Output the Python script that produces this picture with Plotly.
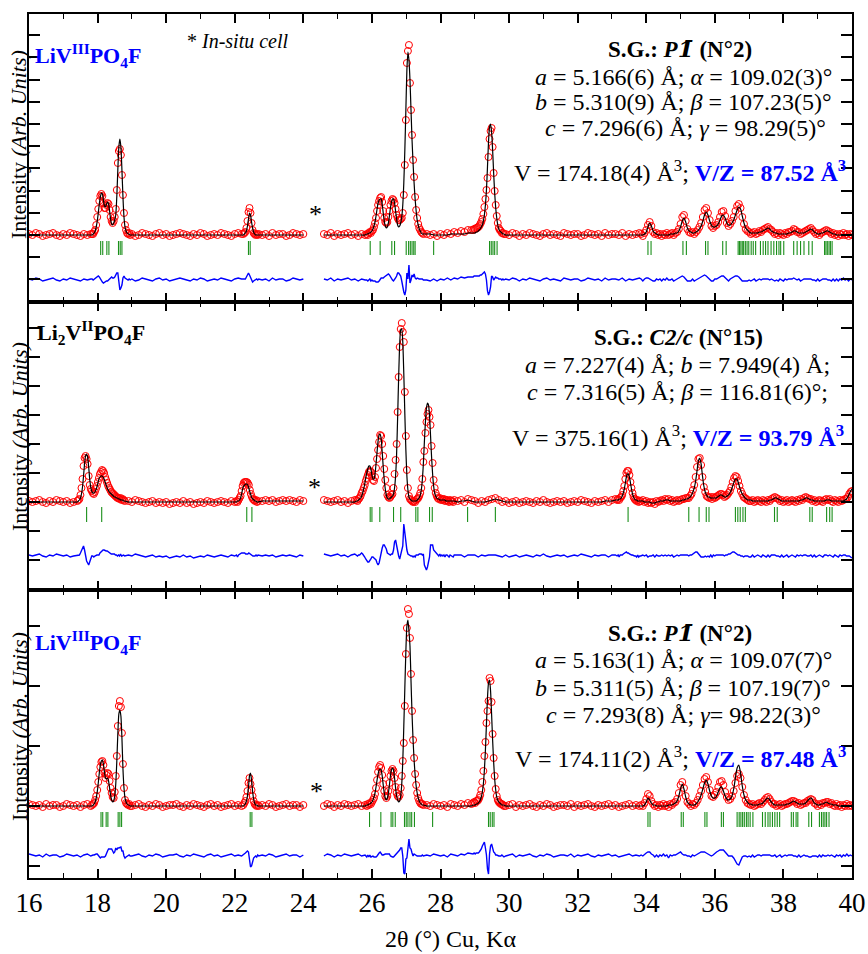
import plotly.graph_objects as go
from plotly.subplots import make_subplots

# ============================ DATA ============================
# 2theta scan segments (start, step); intensities in arbitrary units
# (background level of each pattern = 0). Obs = observed, calc = calculated.

# ---------- Panel 1 : LiV(III)PO4F (top) ----------
top_starts = [16.0, 17.84, 19.0, 22.25, 22.8, 24.6, 25.85, 27.6, 28.95, 29.9, 33.85]
top_steps = [0.1, 0.03, 0.1, 0.03, 0.1, 0.1, 0.03, 0.1, 0.03, 0.1, 0.05]
top_obs = [
    [1, 0, 2, 1, -1, 0, 1, 2, 0, -1, 1, 0, 2, 1, 0, -1, 1, 0, 1],
    [1, 1, 3, 5, 10, 18, 26, 34, 39, 41, 39, 32, 27, 27, 30, 32, 31, 25, 18, 14, 12, 14, 18, 26, 45, 72, 84, 86, 80, 60, 40, 22, 10, 5, 2, 1, 2, 0],
    [1, -1, 0, 2, 1, 0, -1, 1, 2, 0, 1, -1, 0, 1, 2, 1, 0, -1, 1, 0, 2, 1, -1, 0, 1, 0, 2, 1, 0, -1, 1, 2, 1],
    [1, 2, 3, 7, 14, 23, 27, 22, 12, 5, 2, 1, 0, 1, 0, 1],
    [0, 1, -1, 2, 0, 1, 1, -1, 0, 2, 1, 0, 1],
    [1, 0, 2, -1, 1, 0, 1, 2, 0, 1, -1, 1, 0],
    [1, 0, 2, 3, 2, 4, 5, 8, 12, 17, 24, 30, 34, 37, 38, 33, 24, 17, 13, 12, 13, 18, 24, 30, 34, 36, 35, 32, 26, 20,
     17, 15, 15, 16, 17, 22, 40, 70, 115, 172, 184, 190, 152, 125, 100, 75, 58, 38, 25, 17, 11, 7, 5, 3, 2, 1],
    [1, 0, 1, -1, 1, 0, 2, 1, 3, 2, 4, 3, 5, 5],
    [5, 6, 6, 7, 7, 8, 9, 11, 13, 16, 21, 28, 36, 45, 57, 78, 96, 104, 107, 88, 62, 44, 30, 19, 12, 7, 5, 4, 2, 2, 1],
    [1, 0, 2, 1, -1, 1, 0, 2, 1, 0, -1, 1, 2, 0, 1, 0, -1, 2, 1, 0, 1, 1, -1, 0, 2, 1, 0, 1, -1, 2, 0, 1, 1, 0, 2, -1, 1, 0, 1, 2],
    [1, -1, 2, 5, 10, 13, 9, 3, 1, 2, 0, 1, -1, 1, 0, 2, 0, 1, 2, 0, 2, 3, 6, 11, 18, 20, 14, 6, 3, 2,
     3, 1, 3, 5, 8, 12, 18, 25, 27, 22, 15, 9, 7, 9, 10, 13, 18, 23, 24, 19, 12, 9, 11, 14, 18, 24, 29, 31, 27, 18,
     11, 6, 4, 3, 1, 2, 3, 1, 2, 4, 3, 5, 6, 7, 8, 6, 5, 3, 1, 2, 0, 2, 1, 0, 2, 1, 3, 3, 4, 6,
     5, 3, 3, 1, 2, 3, 4, 5, 6, 7, 5, 3, 1, 2, 0, 2, 3, 4, 5, 4, 3, 1, 2, 0, 1, -1, 1, 0, 2, 0, 1, -1, 1, 0],
]
top_calc = [
    0,
    [0, 1, 2, 4, 8, 14, 22, 31, 38, 42, 41, 35, 29, 28, 31, 33, 31, 24, 16, 11, 10, 12, 15, 20, 38, 65, 88, 96, 88, 65, 38, 18, 8, 4, 2, 1, 1, 0],
    0,
    [0, 1, 2, 4, 9, 16, 22, 20, 13, 7, 3, 1, 0, 0, 0, 0],
    0,
    0,
    [1, 1, 2, 2, 3, 4, 6, 9, 13, 19, 26, 32, 35, 36, 36, 31, 22, 14, 9, 7, 8, 12, 19, 27, 33, 36, 36, 32, 24, 16,
     10, 8, 9, 12, 18, 30, 52, 85, 125, 165, 183, 175, 155, 125, 95, 72, 52, 36, 24, 15, 10, 6, 4, 2, 1, 1],
    [1, 1, 0, 0, 0, 0, 0, 1, 1, 1, 1, 1, 2, 2],
    [2, 2, 2, 3, 3, 4, 5, 6, 8, 10, 14, 20, 30, 45, 68, 93, 108, 111, 103, 85, 62, 42, 27, 17, 10, 6, 4, 3, 2, 1, 1],
    0,
    [0, 0, 1, 3, 8, 12, 9, 4, 2, 1, 0, 0, 0, 0, 0, 0, 0, 1, 1, 1, 2, 2, 4, 8, 14, 17, 13, 7, 4, 3,
     2, 2, 3, 4, 6, 9, 14, 20, 23, 20, 14, 10, 8, 8, 9, 11, 15, 19, 20, 17, 12, 10, 10, 12, 15, 20, 25, 28, 26, 19,
     12, 7, 5, 3, 2, 2, 2, 2, 2, 3, 3, 4, 5, 6, 7, 6, 4, 3, 2, 2, 1, 1, 1, 1, 1, 1, 2, 2, 3, 4,
     4, 3, 2, 2, 2, 2, 3, 4, 5, 6, 5, 3, 2, 1, 1, 2, 2, 3, 4, 4, 3, 2, 1, 1, 0, 0, 0, 0, 0, 0, 0, 0, 0, 0],
]
top_bragg = [18.09, 18.15, 18.27, 18.33, 18.61, 18.66, 18.71, 22.40, 22.45, 25.95, 26.24, 26.58, 26.66, 27.00,
             27.07, 27.12, 27.17, 27.22, 27.26, 27.80, 29.43, 29.48, 29.53, 29.58, 29.65, 34.05, 34.14, 35.07,
             35.17, 35.73, 35.80, 36.23, 36.33, 36.68, 36.72, 36.76, 36.80, 36.84, 36.89, 36.94, 36.99, 37.06,
             37.12, 37.19, 37.33, 37.41, 37.48, 37.55, 37.64, 37.72, 37.80, 37.87, 37.92, 38.01, 38.30, 38.40,
             38.50, 38.60, 38.74, 38.84, 39.20, 39.24, 39.28, 39.33, 39.37, 39.42]

# ---------- Panel 2 : Li2V(II)PO4F (middle) ----------
mid_starts = [16.0, 17.41, 18.9, 22.05, 22.8, 24.6, 25.55, 28.5, 33.15, 33.9, 35.2, 37.05, 39.84]
mid_steps = [0.1, 0.03, 0.1, 0.03, 0.1, 0.1, 0.03, 0.1, 0.03, 0.05, 0.04, 0.05, 0.04]
mid_obs = [
    [1, 0, 1, 2, 0, -1, 1, 0, 2, 1, 0, 1, -1, 0],
    [1, 2, 3, 7, 14, 23, 36, 44, 46, 43, 38, 26, 17, 13, 11, 9, 8, 10, 13, 16, 20, 24, 28, 30, 32, 31, 29, 25, 22, 19,
     16, 14, 12, 10, 9, 8, 7, 6, 5, 4, 4, 3, 4, 2, 3, 2, 1],
    [1, 0, 2, 1, 0, -1, 0, 1, -1, 0, -1, 0, -2, -1, 0, -1, 1, -1, 0, -2, -1, 0, -1, 1, 0, -1, 0, 1, 0, -1, 1, 0],
    [1, 0, 2, 4, 6, 11, 16, 19, 20, 20, 20, 19, 17, 12, 8, 5, 3, 2, 1, 2, 0, 1],
    [1, 2, 1, 2, 0, 1, 2, 1, 2, 1, 0, 2, 1],
    [2, 1, 0, 1, 2, 0, 1, -1, 1, 2],
    [2, 1, 3, 4, 6, 9, 11, 14, 17, 21, 24, 27, 30, 31, 30, 26, 22, 21, 25, 34, 43, 52, 60, 67, 66, 58, 46, 33, 22, 14,
     7, 5, 4, 5, 7, 8, 14, 28, 42, 58, 90, 125, 155, 173, 179, 170, 160, 110, 66, 32, 14, 6, 3, 2, 1, 0, 1, 0, 2, 3,
     4, 6, 9, 14, 23, 40, 51, 69, 80, 88, 92, 85, 77, 56, 39, 22, 14, 9, 6, 4, 3, 4, 2, 3, 2, 3, 1, 2, 2, 1,
     0, 2, 1, 1, 0, 2],
    [1, 2, 0, 3, 2, 1, -1, 1, 0, 2, 3, 4, 2, 0, 1, -1, 0, 1, -1, 0, 1, 0, -1, 1, 0, 2, 0, -1, 0, 1,
     0, 1, -1, 0, 1, 0, 2, 1, 0, -1, 1, 0, 1, 2, 0, 2, 3],
    [2, 3, 2, 4, 5, 7, 11, 16, 23, 29, 31, 31, 27, 20, 14, 9, 5, 3, 2, 1, 2, 0, 1, 1],
    [2, 0, 1, -1, 0, -1, 0, -2, 1, 0, 1, 2, 1, 3, 2, 3, 1, 2, 0, 1, 2, 1, 2, 3, 3, 4],
    [4, 4, 6, 8, 12, 17, 25, 35, 43, 44, 37, 25, 15, 10, 6, 5, 4, 5, 3, 5, 4, 5, 6, 7, 8, 8, 7, 5, 6, 7,
     9, 11, 15, 20, 24, 26, 25, 21, 16, 11, 8, 5, 4, 3, 2, 1],
    [1, 2, 0, 1, 2, 1, 0, 2, 1, 0, 2, 1, 3, 4, 5, 4, 3, 1, 2, 0, 1, 2, 0, 1, 2, 1, 0, 2, 1, 3,
     2, 4, 5, 4, 3, 3, 1, 2, 0, 1, 2, 1, 0, 2, 3, 2, 3, 1, 0, 2, 1, 0, 2, 1, 2, 3],
    [3, 5, 8, 10, 11],
]
mid_calc = [
    0,
    [0, 1, 2, 4, 8, 15, 26, 38, 46, 48, 45, 35, 23, 15, 11, 9, 9, 10, 12, 15, 19, 23, 25, 26, 26, 25, 23, 20, 17, 14,
     12, 10, 9, 8, 7, 6, 5, 5, 4, 4, 3, 3, 2, 2, 2, 1, 1],
    0,
    [0, 1, 1, 2, 4, 8, 13, 16, 17, 18, 18, 17, 14, 10, 7, 4, 3, 2, 1, 1, 0, 0],
    1,
    0,
    [1, 1, 2, 3, 4, 6, 9, 13, 18, 24, 29, 33, 36, 36, 33, 27, 23, 23, 28, 38, 50, 61, 67, 68, 63, 50, 35, 22, 13, 7,
     4, 3, 3, 4, 5, 6, 8, 14, 26, 48, 85, 125, 158, 172, 173, 160, 128, 88, 52, 26, 12, 5, 3, 2, 1, 1, 1, 1, 1, 2,
     3, 4, 7, 12, 22, 38, 60, 80, 94, 99, 97, 86, 66, 45, 28, 16, 9, 6, 4, 3, 3, 2, 2, 2, 2, 2, 2, 1, 1, 1,
     1, 1, 1, 1, 1, 1],
    [0, 1, 1, 2, 1, 0, 0, 0, 0, 1, 2, 3, 2, 1, 0, 0, 0, 0, 0, 0, 0, 0, 0, 0, 0, 0, 0, 0, 0, 0,
     0, 0, 0, 0, 0, 0, 0, 0, 0, 0, 0, 0, 0, 1, 1, 1, 2],
    [2, 2, 3, 3, 4, 6, 9, 13, 19, 25, 28, 28, 25, 19, 13, 8, 5, 3, 2, 2, 1, 1, 1, 1],
    [1, 0, 0, 0, 0, -1, -1, -1, 0, 0, 1, 1, 1, 2, 2, 2, 1, 1, 1, 1, 1, 1, 1, 2, 2, 3],
    [3, 4, 5, 7, 10, 14, 21, 31, 41, 44, 38, 26, 16, 10, 7, 5, 5, 4, 4, 4, 4, 4, 5, 6, 7, 7, 6, 5, 5, 6,
     7, 9, 12, 16, 20, 23, 23, 20, 15, 11, 8, 6, 4, 3, 2, 2],
    [2, 1, 1, 1, 1, 1, 1, 1, 1, 1, 1, 2, 2, 3, 4, 4, 3, 2, 1, 1, 1, 1, 1, 1, 1, 1, 1, 1, 1, 2,
     2, 3, 4, 4, 3, 2, 2, 1, 1, 1, 1, 1, 1, 1, 2, 2, 2, 1, 1, 1, 1, 1, 1, 1, 1, 2],
    [3, 5, 8, 11, 13],
]
mid_bragg = [17.68, 18.12, 22.35, 22.50, 25.95, 26.00, 26.23, 26.63, 26.84, 27.28, 27.34, 27.68, 27.76, 28.79,
             29.60, 33.47, 35.24, 35.54, 35.75, 35.83, 36.60, 36.67, 36.74, 36.82, 36.89, 37.74, 37.82, 38.77,
             38.84, 39.26, 39.35, 39.42]

# ---------- Panel 3 : LiV(III)PO4F (bottom) ----------
bot_starts = [16.0, 17.84, 19.0, 22.25, 22.8, 24.6, 25.85, 27.6, 28.95, 29.9, 33.85]
bot_steps = [0.1, 0.03, 0.1, 0.03, 0.1, 0.1, 0.03, 0.1, 0.03, 0.1, 0.05]
bot_obs = [
    [2, 1, 0, 1, -1, 2, 0, 1, 1, -1, 0, 2, 1, 0, 1, -1, 1, 2, 0],
    [1, 2, 3, 6, 10, 16, 24, 32, 39, 44, 45, 41, 33, 28, 31, 33, 32, 25, 18, 13, 9, 8, 14, 30, 50, 80, 100, 105, 99, 73, 42, 18, 6, 3, 2, 1, 2, 0],
    [0, 1, 2, 0, -1, 1, 0, 2, 1, -1, 0, 1, 1, 2, 0, -1, 1, 0, 2, 1, 0, -1, 1, 2, 0, 1, -1, 0, 1, 2, 0, 1, 0],
    [1, 3, 5, 9, 15, 23, 28, 22, 16, 10, 5, 2, 1, 0, 1, 0],
    [1, 0, 2, 1, -1, 0, 1, 2, 0, 1, 1, -1, 1],
    [0, 2, 1, -1, 1, 0, 2, 1, 0, 1, 2, 0, 1],
    [0, 2, 1, 3, 2, 4, 6, 8, 12, 18, 26, 34, 39, 41, 38, 31, 22, 15, 10, 8, 10, 15, 23, 30, 35, 37, 35, 28, 19, 13,
     10, 9, 11, 18, 30, 45, 63, 100, 152, 178, 197, 192, 168, 132, 95, 66, 48, 32, 21, 13, 8, 5, 3, 2, 2, 1],
    [1, 0, 2, 1, 0, 1, -1, 2, 1, 0, 2, 1, 3, 2],
    [3, 4, 3, 5, 5, 6, 8, 11, 16, 24, 35, 50, 64, 83, 95, 105, 128, 125, 104, 72, 48, 30, 17, 10, 6, 4, 3, 2, 2, 1, 0],
    [0, 1, 2, -1, 1, 0, 1, 2, 0, -1, 1, 0, 2, 1, -1, 0, 1, 1, 0, 2, -1, 1, 0, 1, 2, 0, -1, 1, 0, 1, 2, 0, 1, -1, 0, 1, 2, 0, 1, 0],
    [1, 0, 3, 7, 12, 10, 5, 2, 0, 1, -1, 1, 0, 2, 0, 1, -1, 2, 1, 3, 4, 7, 13, 21, 24, 18, 10, 4, 2, 0,
     2, 1, 3, 6, 10, 15, 21, 27, 29, 24, 16, 10, 9, 11, 14, 19, 24, 25, 21, 14, 9, 6, 7, 10, 15, 23, 30, 32, 28, 19,
     11, 6, 3, 2, 1, 2, 0, 1, 2, 3, 2, 4, 6, 8, 9, 7, 4, 2, 2, 0, 1, 2, 0, 1, 2, 2, 3, 4, 5, 5,
     4, 2, 3, 1, 2, 3, 3, 5, 6, 7, 6, 3, 2, 0, 2, 1, 3, 3, 4, 4, 2, 3, 1, 0, 2, 0, 1, -1, 1, 0, 2, 0, 1, 0],
]
bot_calc = [
    0,
    [0, 1, 2, 4, 8, 14, 23, 33, 41, 45, 46, 42, 34, 28, 27, 28, 25, 18, 11, 6, 4, 5, 10, 22, 44, 72, 92, 96, 90, 68, 37, 18, 8, 4, 2, 1, 1, 0],
    0,
    [0, 1, 2, 5, 10, 19, 30, 33, 26, 15, 7, 3, 1, 1, 0, 0],
    0,
    0,
    [1, 1, 2, 2, 3, 4, 6, 9, 13, 19, 26, 32, 36, 37, 36, 30, 21, 13, 8, 6, 8, 13, 21, 30, 36, 38, 36, 28, 18, 10,
     6, 4, 5, 10, 22, 45, 80, 118, 155, 180, 186, 175, 160, 125, 92, 66, 46, 31, 20, 13, 8, 5, 3, 2, 1, 1],
    0,
    [1, 1, 1, 2, 2, 3, 4, 6, 9, 14, 22, 36, 56, 82, 108, 123, 126, 115, 92, 66, 44, 27, 16, 9, 6, 4, 3, 2, 1, 1, 1],
    0,
    [0, 0, 1, 4, 8, 6, 3, 1, 1, 0, 0, 0, 0, 0, 0, 0, 1, 1, 1, 2, 3, 5, 10, 17, 22, 17, 9, 4, 2, 1,
     1, 1, 2, 4, 7, 11, 17, 23, 26, 22, 15, 10, 8, 8, 10, 14, 18, 19, 15, 10, 7, 6, 7, 10, 17, 28, 38, 41, 33, 20,
     11, 6, 4, 2, 2, 1, 1, 1, 1, 2, 2, 3, 5, 7, 8, 6, 4, 2, 1, 1, 1, 1, 1, 1, 1, 2, 2, 3, 4, 5,
     4, 3, 2, 2, 2, 2, 3, 5, 7, 8, 6, 3, 2, 1, 1, 2, 2, 3, 4, 3, 2, 2, 1, 1, 1, 0, 0, 0, 0, 0, 0, 0, 0, 0],
]
bot_bragg = [18.10, 18.15, 18.25, 18.30, 18.60, 18.65, 18.70, 22.45, 22.50, 25.93, 26.26, 26.56, 26.61, 26.68,
             26.95, 27.00, 27.05, 27.11, 27.16, 27.24, 27.77, 29.40, 29.45, 29.51, 29.56, 34.05, 34.11, 35.02,
             35.08, 35.71, 35.77, 36.19, 36.25, 36.65, 36.71, 36.76, 36.81, 36.86, 36.92, 36.97, 37.03, 37.11,
             37.39, 37.47, 37.55, 37.61, 37.68, 37.75, 37.82, 37.89, 38.23, 38.29, 38.37, 38.42, 38.74, 38.82,
             39.05, 39.11, 39.16, 39.21, 39.26, 39.33]

x_ticks = [16, 18, 20, 22, 24, 26, 28, 30, 32, 34, 36, 38, 40]

# per-panel display settings: y-range, tick spacing, difference offset, Bragg marker span
panels = [
    dict(starts=top_starts, steps=top_steps, obs=top_obs, calc=top_calc, bragg=top_bragg,
         yrange=[-67, 221], dtick=22.2, diff_off=-45, bragg_span=(-6, -20)),
    dict(starts=mid_starts, steps=mid_steps, obs=mid_obs, calc=mid_calc, bragg=mid_bragg,
         yrange=[-88, 200], dtick=29, diff_off=-54, bragg_span=(-5, -20)),
    dict(starts=bot_starts, steps=bot_steps, obs=bot_obs, calc=bot_calc, bragg=bot_bragg,
         yrange=[-72, 216], dtick=60, diff_off=-50, bragg_span=(-6, -21)),
]


def assemble(starts, steps, obs, calc):
    xs, yo, yc = [], [], []
    prev_end = None
    for s, st, o, c in zip(starts, steps, obs, calc):
        cl = list(c) if isinstance(c, (list, tuple)) else [c] * len(o)
        if len(cl) != len(o):
            raise ValueError(f"segment {s}: {len(o)} obs vs {len(cl)} calc")
        if prev_end is not None and s - prev_end > 0.3:
            xs.append(None); yo.append(None); yc.append(None)
        for i, (a, b) in enumerate(zip(o, cl)):
            xs.append(round(s + i * st, 3)); yo.append(a); yc.append(b)
        prev_end = s + (len(o) - 1) * st
    return xs, yo, yc


SERIF = "Liberation Serif"
fig = make_subplots(rows=3, cols=1, shared_xaxes=True, vertical_spacing=0)

for r, p in enumerate(panels, start=1):
    xs, yo, yc = assemble(p["starts"], p["steps"], p["obs"], p["calc"])
    diff = [None if a is None else a - b + p["diff_off"] for a, b in zip(yo, yc)]
    bx, by = [], []
    for t in p["bragg"]:
        bx += [t, t, None]
        by += [p["bragg_span"][0], p["bragg_span"][1], None]
    fig.add_trace(go.Scatter(x=xs, y=yo, mode="markers", connectgaps=False,
                             marker=dict(symbol="circle-open", size=7, color="#ff0000",
                                         line=dict(width=1, color="#ff0000")),
                             hoverinfo="skip"), row=r, col=1)
    fig.add_trace(go.Scatter(x=xs, y=yc, mode="lines", connectgaps=False,
                             line=dict(color="black", width=1.2, shape="spline", smoothing=0.6),
                             hoverinfo="skip"), row=r, col=1)
    fig.add_trace(go.Scatter(x=xs, y=diff, mode="lines", connectgaps=False,
                             line=dict(color="#0000ff", width=1.4), hoverinfo="skip"), row=r, col=1)
    fig.add_trace(go.Scatter(x=bx, y=by, mode="lines", line=dict(color="#1a8f1a", width=1.1),
                             hoverinfo="skip"), row=r, col=1)
    fig.update_xaxes(row=r, col=1, range=[16, 40], tickvals=x_ticks, ticks="inside", ticklen=9,
                     tickwidth=1.5, tickcolor="black", showline=True, linecolor="black", linewidth=1.8,
                     mirror="ticks", showgrid=False, zeroline=False, automargin=False,
                     minor=dict(ticks="inside", dtick=1, tick0=16, ticklen=5, tickwidth=1.3, tickcolor="black"),
                     showticklabels=(r == 3),
                     tickfont=dict(family=SERIF, size=27, color="black"))
    fig.update_yaxes(row=r, col=1, range=p["yrange"], tick0=0, dtick=p["dtick"], ticks="inside",
                     ticklen=11, tickwidth=1.5, tickcolor="black", showline=True, linecolor="black",
                     linewidth=1.8, mirror="ticks", showgrid=False, zeroline=False, showticklabels=False,
                     automargin=False)

# ---------------- text ----------------
# plot-area edges in page pixels (page body margin is removed by the post script)
W, H = 868, 954
L, R, T, B = 29, 852, 14, 878


def px(x, y):
    return (x - L) / (R - L), (B - y) / (B - T)


BLUE = "#0000ff"
annos = []


def add(text, x, y, size, xanchor="center", color="black", angle=0):
    ax, ay = px(x, y)
    annos.append(dict(text=text, x=ax, y=ay, xref="paper", yref="paper", xanchor=xanchor, yanchor="middle",
                      showarrow=False, textangle=angle, font=dict(family=SERIF, size=size, color=color)))


P1 = "<i>P</i><span style='font-family:DejaVu Serif'><i>1\u0304</i></span>"
TS = 24
# top panel
add("<b>LiV<sup>III</sup>PO<sub>4</sub>F</b>", 33, 55, 22, "left", BLUE)
add("* <i>In-situ cell</i>", 185, 41, 20, "left")
add(f"<b>S.G.: {P1} (N°2)</b>", 680, 48, 23)
add("<i>a</i> = 5.166(6) Å; <i>α</i> = 109.02(3)°", 683, 77, TS)
add("<i>b</i> = 5.310(9) Å; <i>β</i> = 107.23(5)°", 683, 102, TS)
add("<i>c</i> = 7.296(6) Å; <i>γ</i> = 98.29(5)°", 685, 128, TS)
add("V = 174.18(4) Å<sup>3</sup>; <span style='color:#0000ff'><b>V/Z = 87.52 Å<sup>3</sup></b></span>", 680, 171, TS)
add("*", 315, 215, 26)
# middle panel
add("<b>Li<sub>2</sub>V<sup>II</sup>PO<sub>4</sub>F</b>", 35, 333, 22, "left")
add("<b>S.G.: <i>C2/c</i> (N°15)</b>", 678, 337, 23)
add("<i>a</i> = 7.227(4) Å; <i>b</i> = 7.949(4) Å;", 677, 365, TS)
add("<i>c</i> = 7.316(5) Å; <i>β</i> = 116.81(6)°;", 677, 392, TS)
add("V = 375.16(1) Å<sup>3</sup>; <span style='color:#0000ff'><b>V/Z = 93.79 Å<sup>3</sup></b></span>", 678, 436, TS)
add("*", 314, 487, 26)
# bottom panel
add("<b>LiV<sup>III</sup>PO<sub>4</sub>F</b>", 33, 642, 22, "left", BLUE)
add(f"<b>S.G.: {P1} (N°2)</b>", 680, 632, 23)
add("<i>a</i> = 5.163(1) Å; <i>α</i> = 109.07(7)°", 683, 660, TS)
add("<i>b</i> = 5.311(5) Å; <i>β</i> = 107.19(7)°", 683, 688, TS)
add("<i>c</i> = 7.293(8) Å; <i>γ</i>= 98.22(3)°", 683, 715, TS)
add("V = 174.11(2) Å<sup>3</sup>; <span style='color:#0000ff'><b>V/Z = 87.48 Å<sup>3</sup></b></span>", 680, 757, TS)
add("*", 316, 791, 26)
# axis titles
for yc_ in (145, 437, 727):
    add("Intensity <i>(Arb. Units)</i>", 19, yc_, 22, "center", "black", -90)
add("2θ (°) Cu, Kα", 450, 939, 24)

fig.update_layout(width=W, height=H,
                  margin=dict(l=L, r=W - R, t=T, b=H - B, autoexpand=False),
                  paper_bgcolor="white", plot_bgcolor="white", showlegend=False,
                  annotations=annos, font=dict(family=SERIF, color="black"))
fig.write_html("out.html", config={"displayModeBar": False},
               post_script="document.body.style.margin='0';document.body.style.overflow='hidden';")
